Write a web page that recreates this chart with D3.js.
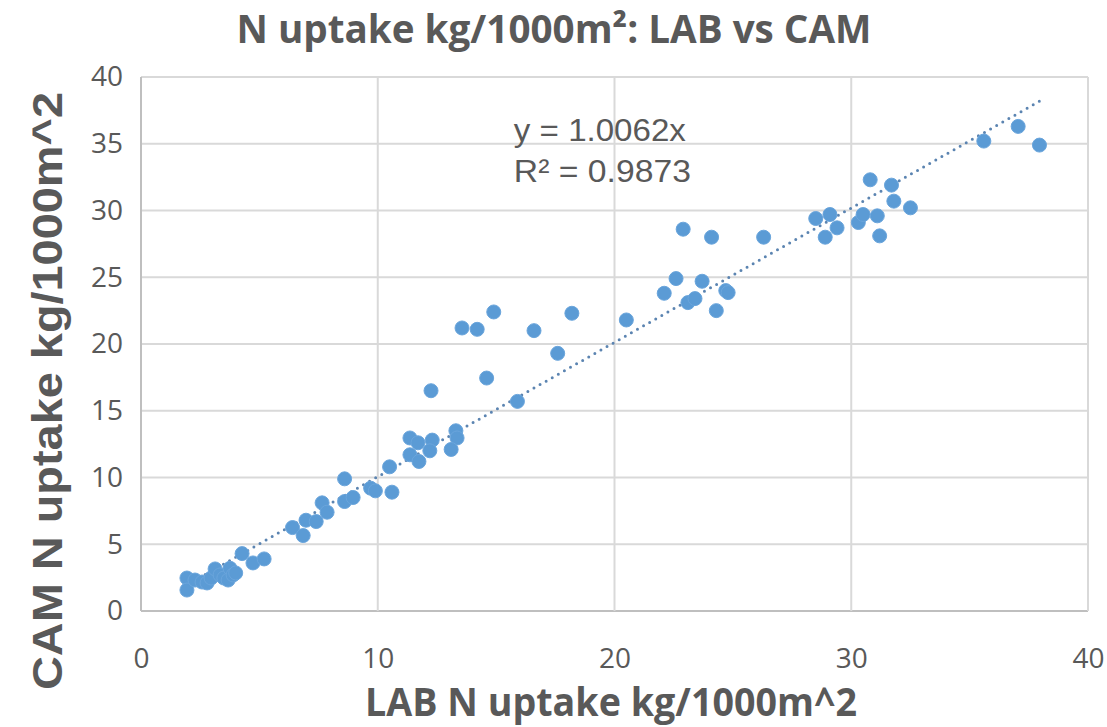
<!DOCTYPE html>
<html>
<head>
<meta charset="utf-8">
<script src="https://cdn.jsdelivr.net/npm/d3@7"></script>
<style>
  body { margin: 0; background: #fff; }
  svg text { fill: #595959; }
</style>
</head>
<body>
<div id="chart"></div>
<script>
// LAB (x) vs CAM (y) N uptake, kg/1000m^2
var labValues = [1.94, 1.94, 2.28, 2.58, 2.79, 2.96, 3.13, 3.34, 3.50, 3.68, 3.76, 3.89, 4.00, 4.27, 4.73, 5.20,
    6.40, 6.85, 6.97, 7.40, 7.65, 7.86, 8.60, 8.96, 8.60, 9.70, 9.90, 10.60, 10.50,
    11.36, 11.70, 12.30, 12.20, 11.36, 11.74, 13.30, 13.35, 13.10, 12.25, 14.60, 15.90,
    13.56, 14.20, 14.90, 16.60, 18.20, 17.60, 20.50, 22.10, 22.60, 23.70, 23.10, 23.40, 24.70, 24.80, 24.30,
    22.90, 24.10, 26.30, 28.50, 29.10, 28.90, 29.40, 30.30, 30.50, 31.10, 31.20, 30.80, 31.70, 31.80, 32.50,
    35.60, 37.05, 37.95];
var camValues = [2.47, 1.57, 2.32, 2.17, 2.10, 2.47, 3.15, 2.70, 2.47, 2.32, 3.20, 2.70, 2.85, 4.30, 3.60, 3.90,
    6.25, 5.65, 6.80, 6.70, 8.10, 7.40, 8.20, 8.50, 9.90, 9.20, 9.00, 8.90, 10.80,
    12.96, 12.60, 12.80, 12.00, 11.70, 11.20, 13.50, 12.96, 12.10, 16.50, 17.45, 15.70,
    21.20, 21.10, 22.40, 21.00, 22.30, 19.30, 21.80, 23.80, 24.90, 24.70, 23.10, 23.40, 24.00, 23.85, 22.50,
    28.60, 28.00, 28.00, 29.40, 29.70, 28.00, 28.70, 29.10, 29.70, 29.60, 28.10, 32.30, 31.90, 30.70, 30.20,
    35.20, 36.30, 34.90];
var xTicks = [0, 10, 20, 30, 40];
var yTicks = [0, 5, 10, 15, 20, 25, 30, 35, 40];
var slope = 1.0062;
var eqLines = ["y = 1.0062x", "R² = 0.9873"];

var W = 1107, H = 727;
var margin = {top: 77, right: 19, bottom: 116, left: 141};
var width = W - margin.left - margin.right,
    height = H - margin.top - margin.bottom;

var data = labValues.map(function(v, i) { return {lab: v, cam: camValues[i]}; });

var x = d3.scaleLinear().domain([0, 40]).range([0, width]);
var y = d3.scaleLinear().domain([0, 40]).range([height, 0]);

var svg = d3.select("#chart").append("svg")
    .attr("width", W)
    .attr("height", H);

var g = svg.append("g")
    .attr("transform", "translate(" + margin.left + "," + margin.top + ")");

// gridlines
g.selectAll(".hgrid")
    .data(yTicks)
    .enter().append("line")
    .attr("x1", 0).attr("x2", width)
    .attr("y1", function(d) { return y(d); })
    .attr("y2", function(d) { return y(d); })
    .style("stroke", function(d) { return d === 0 ? "#bfbfbf" : "#d9d9d9"; })
    .style("stroke-width", 2);

g.selectAll(".vgrid")
    .data(xTicks)
    .enter().append("line")
    .attr("y1", 0).attr("y2", height)
    .attr("x1", function(d) { return x(d); })
    .attr("x2", function(d) { return x(d); })
    .style("stroke", function(d) { return d === 0 ? "#bfbfbf" : "#d9d9d9"; })
    .style("stroke-width", 2);

// axes (labels only)
var xAxis = d3.axisBottom(x).tickValues(xTicks).tickSize(0).tickPadding(37);
var yAxis = d3.axisLeft(y).tickValues(yTicks).tickSize(0).tickPadding(18);

function styleTicks(sel) {
    sel.select(".domain").remove();
    sel.selectAll("text")
        .style("font-family", "'Open Sans', sans-serif")
        .style("font-size", "28px")
        .style("fill", "#595959");
}

g.append("g")
    .attr("transform", "translate(0," + height + ")")
    .call(xAxis)
    .call(styleTicks);

g.append("g")
    .call(yAxis)
    .call(styleTicks);

// trendline
var xMin = d3.min(labValues), xMax = d3.max(labValues);
g.append("line")
    .attr("x1", x(xMin)).attr("y1", y(slope * xMin))
    .attr("x2", x(xMax)).attr("y2", y(slope * xMax))
    .style("stroke", "#5b84b1")
    .style("stroke-width", 3)
    .style("stroke-linecap", "round")
    .style("stroke-dasharray", "0,7");

// points
g.selectAll(".dot")
    .data(data)
    .enter().append("circle")
    .attr("class", "dot")
    .attr("r", 7)
    .attr("cx", function(d) { return x(d.lab); })
    .attr("cy", function(d) { return y(d.cam); })
    .style("fill", "#5b9bd5")
    .style("stroke", "#6aa5dc")
    .style("stroke-width", 1);

// equation
g.selectAll(".eq")
    .data(eqLines)
    .enter().append("text")
    .attr("x", x(15.75))
    .attr("y", function(d, i) { return y(35.2) + i * 41; })
    .attr("textLength", function(d, i) { return i ? 177 : 172; })
    .attr("lengthAdjust", "spacingAndGlyphs")
    .style("font-family", "'Liberation Sans', Arial, sans-serif")
    .style("font-size", "32px")
    .text(function(d) { return d; });

// title
svg.append("text")
    .attr("x", 554)
    .attr("y", 43)
    .attr("text-anchor", "middle")
    .style("font-family", "'Open Sans', sans-serif")
    .style("font-weight", "bold")
    .style("font-size", "39px")
    .attr("textLength", 635)
    .attr("lengthAdjust", "spacingAndGlyphs")
    .text("N uptake kg/1000m²: LAB vs CAM");

// axis titles
svg.append("text")
    .attr("x", 611)
    .attr("y", 716)
    .attr("text-anchor", "middle")
    .attr("textLength", 492)
    .attr("lengthAdjust", "spacingAndGlyphs")
    .style("font-family", "'Open Sans', sans-serif")
    .style("font-weight", "bold")
    .style("font-size", "39px")
    .text("LAB N uptake kg/1000m^2");

svg.append("text")
    .attr("transform", "translate(62," + 391 + ") rotate(-90)")
    .attr("text-anchor", "middle")
    .attr("textLength", 598)
    .attr("lengthAdjust", "spacingAndGlyphs")
    .style("font-family", "'Liberation Sans', Arial, sans-serif")
    .style("font-weight", "bold")
    .style("font-size", "42px")
    .text("CAM N uptake kg/1000m^2");
</script>
</body>
</html>
